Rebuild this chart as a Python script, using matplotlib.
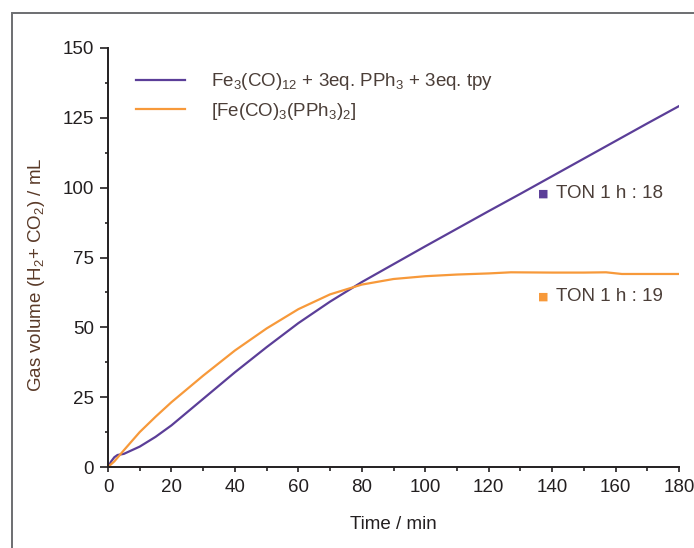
import numpy as np
import matplotlib
matplotlib.use('Agg')
import matplotlib.pyplot as plt
from matplotlib.patches import Rectangle
from matplotlib.ticker import MultipleLocator

# Data
time_fe3 = [0, 1, 2, 3, 5, 10, 15, 20, 30, 40, 50, 60, 70, 80, 90, 100,
            110, 120, 130, 140, 150, 160, 170, 180]
vol_fe3 = [0, 2.0, 3.5, 4.3, 4.7, 7.3, 10.8, 14.9, 24.4, 33.9, 42.9, 51.5,
           59.2, 66.2, 72.6, 79.0, 85.3, 91.6, 97.8, 104.1, 110.4, 116.7,
           123.0, 129.2]

time_pph3 = [0, 2, 5, 10, 15, 20, 30, 40, 50, 60, 70, 80, 90, 100, 110,
             120, 127, 140, 150, 157, 162, 170, 180]
vol_pph3 = [0, 2.0, 6.0, 12.5, 18.0, 23.2, 32.7, 41.7, 49.6, 56.5, 61.8,
            65.3, 67.3, 68.3, 68.9, 69.3, 69.7, 69.6, 69.6, 69.7, 69.1,
            69.1, 69.1]

labels = [r'Fe$_3$(CO)$_{12}$ + 3eq. PPh$_3$ + 3eq. tpy',
          r'[Fe(CO)$_3$(PPh$_3$)$_2$]']
ton_labels = ['TON 1 h : 18', 'TON 1 h : 19']

# Style
purple = '#5b3e98'
orange = '#f7993a'
text_dark = '#231f20'
text_brown = '#4b3e38'
ylab_col = '#5a3a28'

plt.rcParams['font.family'] = ['Liberation Sans', 'DejaVu Sans']
plt.rcParams['mathtext.default'] = 'regular'

fig = plt.figure(figsize=(6.94, 5.48), dpi=100)
ax = fig.add_axes([108/694, 1-467/548, 571/694, 419/548])

# outer frame of the panel (runs off the right and bottom edges)
fig.patches.append(Rectangle((12/694, -0.1), 1.2, 1.1 - 13/548,
                             transform=fig.transFigure, fill=False,
                             edgecolor='#6d6e71', linewidth=1.4))

ax.plot(time_fe3, vol_fe3, color=purple, lw=1.6, label=labels[0])
ax.plot(time_pph3, vol_pph3, color=orange, lw=1.6, label=labels[1])

ax.set_xlim(0, 180)
ax.set_ylim(0, 150)
ax.xaxis.set_major_locator(MultipleLocator(20))
ax.xaxis.set_minor_locator(MultipleLocator(10))
ax.yaxis.set_major_locator(MultipleLocator(25))
ax.yaxis.set_minor_locator(MultipleLocator(12.5))

for s in ['top', 'right']:
    ax.spines[s].set_visible(False)
for s in ['left', 'bottom']:
    ax.spines[s].set_linewidth(1.4)
    ax.spines[s].set_color(text_dark)

ax.tick_params(axis='x', which='major', direction='out', length=3.6,
               width=1.2, labelsize=13.5, colors=text_dark, pad=4.7)
ax.tick_params(axis='x', which='minor', direction='out', length=2.9,
               width=1.2, colors=text_dark)
ax.tick_params(axis='y', which='major', direction='out', length=5.8,
               width=1.2, labelsize=13.5, colors=text_dark, pad=4.3)
ax.tick_params(axis='y', which='minor', direction='out', length=2.2,
               width=1.2, colors=text_dark)

ax.set_xlabel('Time / min', fontsize=13.5, color=text_dark, labelpad=15)
ax.set_ylabel(r'Gas volume (H$_2$+ CO$_2$) / mL', fontsize=13.5,
              color=ylab_col)
ax.yaxis.set_label_coords(-0.106, 0.46)

leg = ax.legend(loc='upper left', bbox_to_anchor=(0.02, 0.985), frameon=False,
                fontsize=13.5, handlelength=2.6, handletextpad=1.4,
                labelspacing=0.45)
for t in leg.get_texts():
    t.set_color(text_brown)

# TON annotations
ton_pos = [0.652, 0.406]
for lab, col, yy in zip(ton_labels, [purple, orange], ton_pos):
    ax.text(0.762, yy, '\u25a0', transform=ax.transAxes, color=col,
            fontsize=8, ha='center', va='center', family='DejaVu Sans')
    ax.text(0.785, yy, lab, transform=ax.transAxes, color=text_brown,
            fontsize=13.5, ha='left', va='center')

fig.savefig('out.png', dpi=100)
